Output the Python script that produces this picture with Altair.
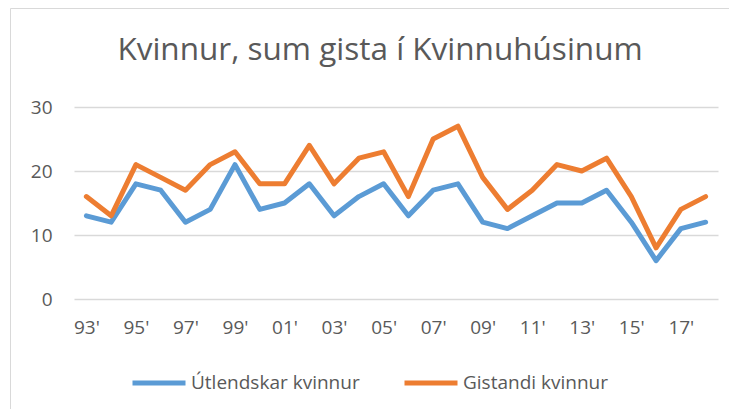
import altair as alt
import pandas as pd

years = ["93'", "94'", "95'", "96'", "97'", "98'", "99'", "00'", "01'", "02'",
         "03'", "04'", "05'", "06'", "07'", "08'", "09'", "10'", "11'", "12'",
         "13'", "14'", "15'", "16'", "17'", "18'"]
utlendskar = [13, 12, 18, 17, 12, 14, 21, 14, 15, 18, 13, 16, 18, 13, 17, 18,
              12, 11, 13, 15, 15, 17, 12, 6, 11, 12]
gistandi = [16, 13, 21, 19, 17, 21, 23, 18, 18, 24, 18, 22, 23, 16, 25, 27,
            19, 14, 17, 21, 20, 22, 16, 8, 14, 16]
series_names = ["Útlendskar kvinnur", "Gistandi kvinnur"]
series_colors = ["#5B9BD5", "#ED7D31"]
shown_labels = years[::2]

df = pd.DataFrame({
    "year": years * 2,
    "series": [series_names[0]] * len(years) + [series_names[1]] * len(years),
    "value": utlendskar + gistandi,
})

FONT = "Open Sans"
GREY = "#595959"

lines = alt.Chart(df).mark_line(strokeWidth=5, strokeJoin="round", strokeCap="round").encode(
    x=alt.X("year:O", sort=years, scale=alt.Scale(type="point", padding=0.5),
            axis=alt.Axis(title=None, values=shown_labels, labelAngle=0, ticks=False,
                          domain=False, grid=False, labelPadding=19, labelFontSize=19,
                          labelFont=FONT, labelColor=GREY, labelBaseline="top")),
    y=alt.Y("value:Q", scale=alt.Scale(domain=[0, 30], nice=False),
            axis=alt.Axis(title=None, values=[0, 10, 20, 30], ticks=False, domain=False,
                          gridColor="#D9D9D9", gridWidth=1.3, labelPadding=22,
                          labelFontSize=19, labelFont=FONT, labelColor=GREY)),
    color=alt.Color("series:N", sort=series_names,
                    scale=alt.Scale(domain=series_names, range=series_colors),
                    legend=alt.Legend(title=None, orient="none", legendX=56, legendY=247,
                                      direction="horizontal", symbolType="stroke",
                                      symbolSize=2809, symbolStrokeWidth=5,
                                      labelOffset=3, columnPadding=34, labelLimit=400,
                                      labelFontSize=19, labelFont=FONT,
                                      labelColor=GREY)),
)

border_df = pd.DataFrame({"a": [0]})
frame = alt.Chart(border_df).mark_rect(fillOpacity=0, stroke="#D9D9D9", strokeWidth=1).encode(
    x=alt.value(-63.5), x2=alt.value(720), y=alt.value(-98.5), y2=alt.value(340))

chart = alt.layer(frame, lines).properties(
    width=644, height=192,
    autosize=alt.AutoSizeParams(type="none"),
    padding={"left": 66, "top": 99, "right": 11, "bottom": 110},
    title=alt.TitleParams(text="Kvinnur, sum gista í Kvinnuhúsinum", fontSize=31.5,
                          font=FONT, color=GREY, fontWeight="normal", anchor="middle",
                          frame="group", dx=-16, offset=0, dy=58),
).configure(background="white", view=alt.ViewConfig(stroke="transparent", strokeWidth=0))

chart.save("out.html", embed_options={"renderer": "svg", "actions": False})
